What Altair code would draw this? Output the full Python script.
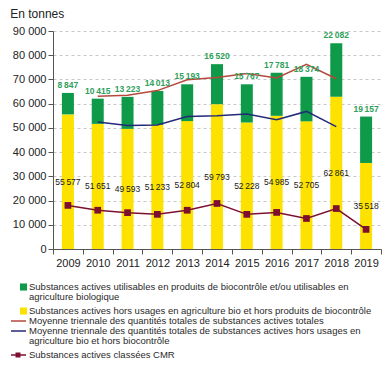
import altair as alt
import pandas as pd

years = ["2009", "2010", "2011", "2012", "2013", "2014", "2015", "2016", "2017", "2018", "2019"]
hors_bio = [55577, 51651, 49593, 51233, 52804, 59793, 52228, 54985, 52705, 62861, 35518]
biocontrole = [8847, 10415, 13223, 14013, 15193, 16520, 15767, 17781, 18374, 22082, 19157]

moy_years = ["2010", "2011", "2012", "2013", "2014", "2015", "2016", "2017", "2018"]
moy_totale = [63100, 63500, 65400, 69900, 70800, 72400, 70600, 76200, 70300]
moy_hors = [52400, 51000, 51200, 54700, 55000, 55700, 53400, 56800, 50500]

cmr = [18000, 16000, 15000, 14300, 16000, 18800, 14300, 15100, 12600, 16700, 8100]

GREEN = "#0e9a48"
YELLOW = "#fde200"
ORANGE = "#b5493c"
BLUE = "#232a78"
CMR = "#7d1030"
FONT = "Liberation Sans"


def fr(v):
    return f"{v:,}".replace(",", "\u2009")


bars = pd.DataFrame({
    "year": years,
    "hors": hors_bio,
    "bio": biocontrole,
})
bars["total"] = bars["hors"] + bars["bio"]
bars["mid"] = bars["hors"] / 2
bars["hors_lab"] = [fr(v) for v in hors_bio]
bars["bio_lab"] = [fr(v) for v in biocontrole]

moy = pd.DataFrame({"year": moy_years, "tot": moy_totale, "hors": moy_hors})
cmr_df = pd.DataFrame({"year": years, "cmr": cmr})

xaxis = alt.Axis(
    title=None, labelAngle=0, tickBand="extent", labelFontSize=11,
    labelColor="#222", labelFont=FONT, tickSize=5, labelPadding=3,
    domainColor="#555", tickColor="#555", grid=False,
)
xscale = alt.Scale(paddingInner=0, paddingOuter=0)
yscale = alt.Scale(domain=[0, 90000], nice=False)
yaxis = alt.Axis(
    title=None, values=list(range(0, 90001, 10000)),
    labelExpr="replace(format(datum.value, ','), ',', ' ')",
    labelFontSize=11, labelColor="#222", labelFont=FONT, tickSize=5,
    labelPadding=2, domainColor="#555", tickColor="#555",
    grid=True, gridDash=[3, 3], gridColor="#c8c8c8",
)


def X():
    return alt.X("year:N", scale=xscale, axis=xaxis)


def Y(field):
    return alt.Y(field, scale=yscale, axis=yaxis)


base = alt.Chart(bars)
yellow_bar = base.mark_bar(size=12, color=YELLOW).encode(x=X(), y=Y("hors:Q"))
green_bar = base.mark_bar(size=12, color=GREEN).encode(x=X(), y=Y("hors:Q"), y2="total:Q")
green_lab = base.mark_text(
    dy=-3, baseline="bottom", fontSize=8.5, fontWeight="bold", color="#2f9f5b", font=FONT
).encode(x=X(), y=Y("total:Q"), text="bio_lab:N")
black_lab = base.mark_text(
    baseline="middle", fontSize=8.5, color="#1a1a1a", font=FONT
).encode(x=X(), y=Y("mid:Q"), text="hors_lab:N")

line_tot = alt.Chart(moy).mark_line(color=ORANGE, strokeWidth=1.5).encode(x=X(), y=Y("tot:Q"))
line_hors = alt.Chart(moy).mark_line(color=BLUE, strokeWidth=1.5).encode(x=X(), y=Y("hors:Q"))
line_cmr = alt.Chart(cmr_df).mark_line(
    color=CMR, strokeWidth=1.5,
    point=alt.OverlayMarkDef(shape="square", size=45, filled=True, color=CMR, opacity=1),
).encode(x=X(), y=Y("cmr:Q"))

main = alt.layer(
    yellow_bar, green_bar, line_tot, line_hors, line_cmr, green_lab, black_lab
).properties(width=328, height=218)

# Legend (drawn below the plot, left of the plot origin)
legend_entries = [
    (["Substances actives utilisables en produits de biocontrôle et/ou utilisables en",
      "agriculture biologique"], "square", GREEN),
    (["Substances actives hors usages en agriculture bio et hors produits de biocontrôle"], "square", YELLOW),
    (["Moyenne triennale des quantités totales de substances actives totales"], "line", ORANGE),
    (["Moyenne triennale des quantités totales de substances actives hors usages en",
      "agriculture bio et hors biocontrôle"], "line", BLUE),
    (["Substances actives classées CMR"], "linepoint", CMR),
]
text_rows, sym_rows = [], []
pos = 5
for lines, kind, col in legend_entries:
    sym_rows.append({"pos": pos, "kind": kind, "color": col})
    for ln in lines:
        text_rows.append({"pos": pos, "line": ln})
        pos += 10
    if len(lines) > 1:
        pos += 4
LH = 78
ly = alt.Scale(domain=[0, LH], reverse=True)
tdf = pd.DataFrame(text_rows)
sdf = pd.DataFrame(sym_rows)

leg_text = alt.Chart(tdf).mark_text(
    align="left", baseline="middle", fontSize=9.5, color="#2a2a2a", font=FONT
).encode(x=alt.value(-24), y=alt.Y("pos:Q", scale=ly, axis=None), text="line:N")
leg_sq = alt.Chart(sdf).transform_filter("datum.kind == 'square'").mark_square(
    size=50, opacity=1
).encode(x=alt.value(-29.5), y=alt.Y("pos:Q", scale=ly, axis=None),
         color=alt.Color("color:N", scale=None))
leg_ln = alt.Chart(sdf).transform_filter("datum.kind != 'square'").mark_rule(
    strokeWidth=1.5
).encode(x=alt.value(-42), x2=alt.value(-27), y=alt.Y("pos:Q", scale=ly, axis=None),
         color=alt.Color("color:N", scale=None))
leg_pt = alt.Chart(sdf).transform_filter("datum.kind == 'linepoint'").mark_square(
    size=25, opacity=1
).encode(x=alt.value(-35), y=alt.Y("pos:Q", scale=ly, axis=None),
         color=alt.Color("color:N", scale=None))

legend = alt.layer(leg_text, leg_ln, leg_sq, leg_pt).properties(width=200, height=LH)

chart = alt.vconcat(main, legend, spacing=14).properties(
    title=alt.TitleParams("En tonnes", anchor="start", fontSize=12, fontWeight="normal",
                          font=FONT, color="#222", offset=4),
    padding={"left": 2, "top": 0, "right": 0, "bottom": 0},
).configure_view(stroke=None)

chart.save("out.html", embed_options={"renderer": "svg", "actions": False})
